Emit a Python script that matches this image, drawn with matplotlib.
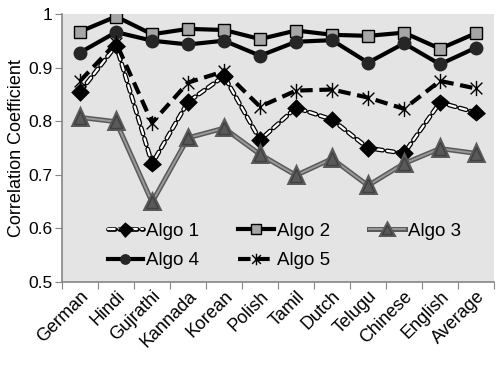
import matplotlib
matplotlib.use("Agg")
import matplotlib.pyplot as plt
import matplotlib.patheffects as pe
from matplotlib.path import Path
import numpy as np

plt.rcParams['font.family'] = ['Liberation Sans', 'DejaVu Sans']

# ---------------------------
# data
# ---------------------------
languages = ["German", "Hindi", "Gujrathi", "Kannada", "Korean", "Polish",
             "Tamil", "Dutch", "Telugu", "Chinese", "English", "Average"]

algo1 = [0.855, 0.941, 0.721, 0.836, 0.884, 0.765, 0.825, 0.803, 0.750, 0.740, 0.835, 0.816]
algo2 = [0.967, 0.995, 0.962, 0.972, 0.970, 0.953, 0.969, 0.961, 0.959, 0.965, 0.935, 0.964]
algo3 = [0.807, 0.799, 0.649, 0.769, 0.787, 0.738, 0.699, 0.730, 0.680, 0.721, 0.749, 0.740]
algo4 = [0.928, 0.966, 0.950, 0.943, 0.950, 0.922, 0.948, 0.951, 0.909, 0.945, 0.906, 0.937]
algo5 = [0.875, 0.946, 0.797, 0.872, 0.893, 0.827, 0.857, 0.859, 0.844, 0.823, 0.875, 0.861]

x = np.arange(len(languages))

# excel style star marker: X plus vertical bar
star = Path([(-1, -1), (1, 1), (-1, 1), (1, -1), (0, -1.3), (0, 1.3)],
            [Path.MOVETO, Path.LINETO, Path.MOVETO, Path.LINETO, Path.MOVETO, Path.LINETO])

fig = plt.figure(figsize=(5.01, 3.65), dpi=100)
ax = fig.add_axes([0.124, 0.227, 0.862, 0.735])
ax.set_facecolor('#e4e4e4')

# Algo 1 - white dashed line with black outline
l1, = ax.plot(x, algo1, color='white', lw=1.6, ls=(0, (3, 2)), dash_capstyle='round',
              marker='D', ms=6, mfc='black', mec='black', label='Algo 1',
              path_effects=[pe.Stroke(linewidth=3.4, foreground='black'), pe.Normal()])
# Algo 2
l2, = ax.plot(x, algo2, color='black', lw=3, marker='s', ms=9,
              mfc='#a6a6a6', mec='black', mew=1, label='Algo 2')
# Algo 3 - gray double line
l3, = ax.plot(x, algo3, color='#9a9a9a', lw=1.4, marker='^', ms=9,
              mfc='#595959', mec='#404040', label='Algo 3',
              path_effects=[pe.Stroke(linewidth=3.6, foreground='#5a5a5a'), pe.Normal()])
# Algo 4
l4, = ax.plot(x, algo4, color='black', lw=3, marker='o', ms=9,
              mfc='#262626', mec='#262626', label='Algo 4')
# Algo 5
l5, = ax.plot(x, algo5, color='black', lw=3, ls=(0, (3, 1.6)), marker=star, ms=11,
              mec='black', mew=1, label='Algo 5')

ax.set_ylim(0.5, 1.0)
ax.set_xlim(-0.5, len(languages) - 0.5)
ax.set_yticks([0.5, 0.6, 0.7, 0.8, 0.9, 1.0])
ax.set_yticklabels(["0.5", "0.6", "0.7", "0.8", "0.9", "1"])

# tick marks between categories, labels at the centres
ax.set_xticks(np.arange(-0.5, len(languages)), minor=False)
ax.set_xticklabels([])
ax.set_xticks(x, minor=True)
ax.set_xticklabels(languages, minor=True, rotation=45, ha='right',
                   rotation_mode='anchor', fontsize=13)
ax.tick_params(axis='x', which='minor', length=0, pad=4)
ax.tick_params(axis='x', which='major', length=5, color='#868686', direction='out')
ax.tick_params(axis='y', length=5, color='#868686', labelsize=12.5, pad=2)

for s in ['top', 'right']:
    ax.spines[s].set_visible(False)
for s in ['left', 'bottom']:
    ax.spines[s].set_color('#868686')
    ax.spines[s].set_linewidth(1.2)

ax.set_ylabel("Correlation Coefficient", fontsize=13, labelpad=2)

# order so rows read Algo 1-3 then Algo 4-5
ax.legend([l1, l4, l2, l5, l3], ["Algo 1", "Algo 4", "Algo 2", "Algo 5", "Algo 3"],
          ncol=3, loc='lower left', bbox_to_anchor=(0.066, -0.015), frameon=False,
          fontsize=13.5, handlelength=1.9, handletextpad=0.15, columnspacing=2.1,
          labelspacing=0.65, markerscale=0.75)

fig.savefig("out.png", dpi=100)
